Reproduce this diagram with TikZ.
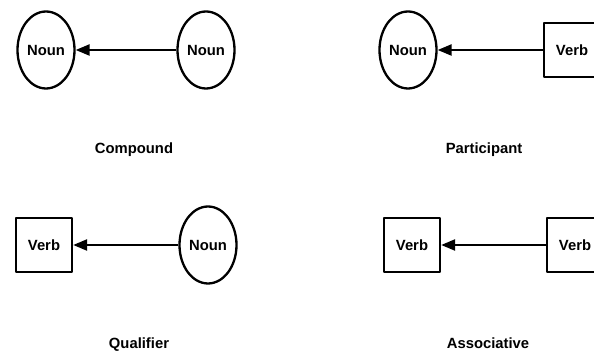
\documentclass[tikz,border=0pt]{standalone}
\usepackage{fontspec}
\setmainfont{Liberation Sans}
\usetikzlibrary{shapes.geometric,arrows.meta}

\tikzset{
  labelfont/.style={font=\fontsize{14.8}{17}\selectfont\bfseries, text height=10.6pt, text depth=0pt},
  nounnode/.style={draw, ellipse, line width=2.3pt, minimum width=57pt, minimum height=77pt, inner sep=0pt, labelfont},
  verbnode/.style={draw, rectangle, line width=2.3pt, line join=round, minimum width=56pt, minimum height=54pt, inner sep=0pt, labelfont},
  relation/.style={labelfont},
  link/.style={line width=2.3pt, -{Triangle[length=14pt, width=11pt]}}
}

\begin{document}
\begin{tikzpicture}[x=1pt, y=-1pt]
  \useasboundingbox (0,0) rectangle (594,352);
  \clip (0,0) rectangle (594,352);

  % Compound: noun <- noun
  \node[nounnode] (c1) at (46,50) {Noun};
  \node[nounnode] (c2) at (206,50) {Noun};
  \draw[link] (c2) -- (c1);
  \node[relation] (cl) at (134,148) {Compound};

  % Participant: noun <- verb
  \node[nounnode] (p1) at (408,50) {Noun};
  \node[verbnode] (p2) at (572,50) {Verb};
  \draw[link] (p2) -- (p1);
  \node[relation] (pl) at (484,148) {Participant};

  % Qualifier: verb <- noun
  \node[verbnode] (q1) at (44,245) {Verb};
  \node[nounnode] (q2) at (208,245) {Noun};
  \draw[link] (q2) -- (q1);
  \node[relation] (ql) at (139,343) {Qualifier};

  % Associative: verb <- verb
  \node[verbnode] (a1) at (412,245) {Verb};
  \node[verbnode] (a2) at (575,245) {Verb};
  \draw[link] (a2) -- (a1);
  \node[relation] (al) at (488,343) {Associative};
\end{tikzpicture}
\end{document}
